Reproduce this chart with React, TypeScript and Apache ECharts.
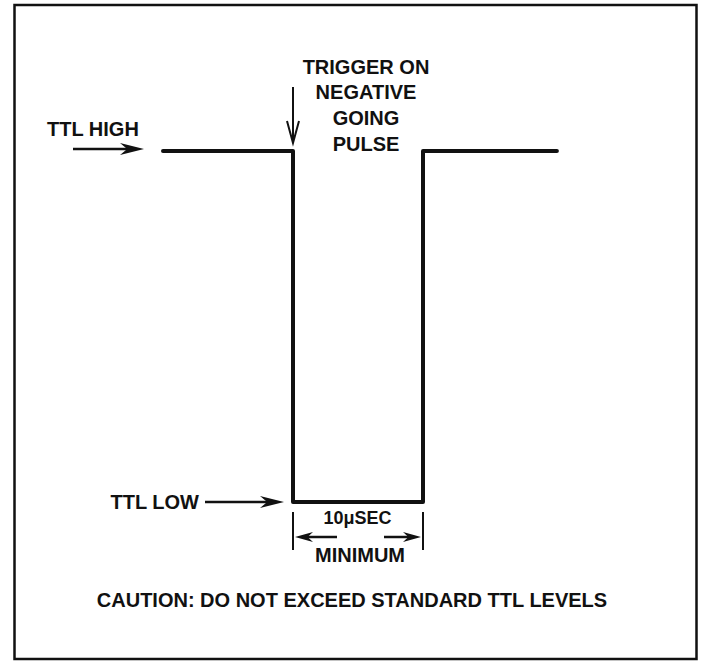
import React, { useEffect, useRef } from "react";
import * as echarts from "echarts";

// Waveform: time (µs) and logic level (1 = TTL HIGH, 0 = TTL LOW)
const timeUs = [-10, 0, 0, 10, 10, 20.3];
const levels = [1, 1, 0, 0, 1, 1];
const levelLabels = ["TTL HIGH", "TTL LOW"];
const triggerLines = ["TRIGGER ON", "NEGATIVE", "GOING", "PULSE"];
const widthLabel = "10\u03bcSEC";
const minLabel = "MINIMUM";
const cautionText = "CAUTION: DO NOT EXCEED STANDARD TTL LEVELS";

const FONT = '"Liberation Sans", Arial, Helvetica, sans-serif';

export default function App() {
  const ref = useRef<HTMLDivElement>(null);
  useEffect(() => {
    if (!ref.current) return;
    const chart = echarts.init(ref.current, undefined, { renderer: "svg" });
    chart.setOption({
      animation: false,
      backgroundColor: "#ffffff",
      grid: { left: 33, right: 20, top: 151, bottom: 160 },
      xAxis: { type: "value", min: -20, max: 30, show: false },
      yAxis: { type: "value", min: 0, max: 1, show: false },
      series: [
        {
          type: "line",
          data: timeUs.map((t, i) => [t, levels[i]]),
          showSymbol: false,
          symbol: "none",
          lineStyle: { color: "#111", width: 4, cap: "round", join: "round" },
          silent: true,
        },
      ],
    });

    const px = (x: number, y: number) =>
      chart.convertToPixel({ gridIndex: 0 }, [x, y]) as number[];
    const [fallX, highY] = px(timeUs[1], levels[1]);
    const [riseX, lowY] = px(timeUs[3], levels[3]);
    const [startX] = px(timeUs[0], levels[0]);

    const txt = (text: string, x: number, y: number, size = 20, align = "center") => ({
      type: "text",
      style: {
        text,
        x,
        y,
        fill: "#111",
        font: `bold ${size}px ${FONT}`,
        textAlign: align,
        textVerticalAlign: "middle",
      },
    });
    const line = (x1: number, y1: number, x2: number, y2: number, w = 2) => ({
      type: "line",
      shape: { x1, y1, x2, y2 },
      style: { stroke: "#111", lineWidth: w },
    });
    const head = (tipX: number, y: number, dir: number, len = 20, hw = 6) => ({
      type: "polygon",
      shape: {
        points: [
          [tipX, y],
          [tipX - dir * len, y - hw],
          [tipX - dir * len * 0.7, y],
          [tipX - dir * len, y + hw],
        ],
      },
      style: { fill: "#111" },
    });

    const midX = (fallX + riseX) / 2;
    const textCx = fallX + 73;
    const graphic: any[] = [
      {
        type: "rect",
        shape: { x: 14.5, y: 5, width: 682, height: 654 },
        style: { fill: "none", stroke: "#111", lineWidth: 2.5 },
      },
      // TTL HIGH
      txt(levelLabels[0], 47, highY - 22, 20, "left"),
      line(73, highY - 2, startX - 30, highY - 2, 2.5),
      head(startX - 19, highY - 2, 1, 24, 6),
      // trigger arrow
      line(fallX, highY - 64, fallX, highY - 8, 2),
      {
        type: "polyline",
        shape: { points: [[fallX - 6, highY - 30], [fallX, highY - 8], [fallX + 6, highY - 30]] },
        style: { stroke: "#111", lineWidth: 2, fill: "none" },
      },
      ...triggerLines.map((t, i) => txt(t, textCx, highY - 84.5 + i * 25.8)),
      // TTL LOW
      txt(levelLabels[1], 199, lowY, 20, "right"),
      line(205, lowY, fallX - 20, lowY, 2.5),
      head(fallX - 9, lowY, 1, 24, 6),
      // width bracket
      line(fallX, lowY + 10, fallX, lowY + 48, 2),
      line(riseX, lowY + 10, riseX, lowY + 48, 2),
      txt(widthLabel, midX - 0.5, lowY + 16, 18),
      line(fallX + 14, lowY + 35, fallX + 44, lowY + 35, 2.5),
      head(fallX + 2, lowY + 35, -1, 18, 5),
      line(riseX - 39, lowY + 35, riseX - 14, lowY + 35, 2.5),
      head(riseX - 2, lowY + 35, 1, 18, 5),
      txt(minLabel, midX + 2, lowY + 53),
      // caution
      txt(cautionText, 352, 600),
    ];
    chart.setOption({ graphic });
    return () => chart.dispose();
  }, []);
  return (
    <div
      ref={ref}
      style={{ position: "absolute", left: 0, top: 0, width: 703, height: 662, background: "#fff" }}
    />
  );
}
